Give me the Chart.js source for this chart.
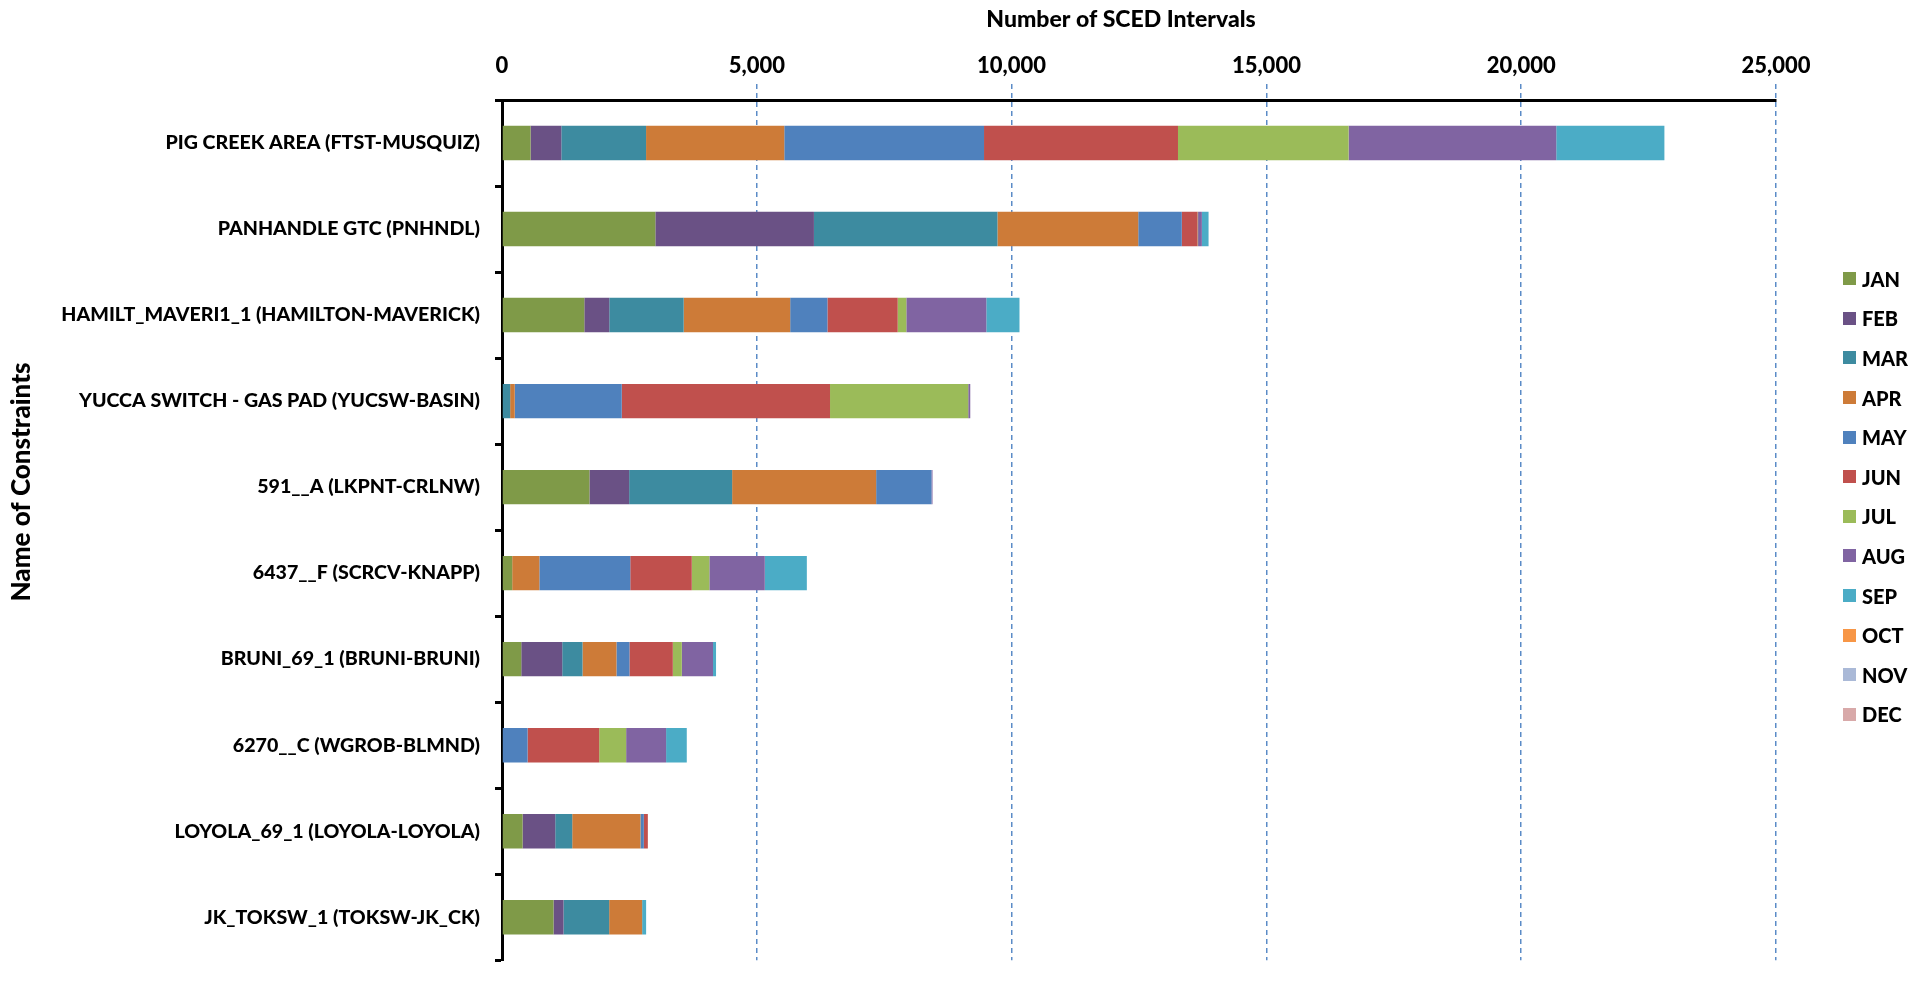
<!DOCTYPE html>
<html>
<head>
<meta charset="utf-8">
<script src="https://cdn.jsdelivr.net/npm/chart.js@4"></script>
<style>
    body { margin: 0; background: #fff; overflow: hidden; }
    #wrap { position: relative; width: 1929px; height: 987px; }
    #legend { position: absolute; left: 1843px; top: 259px; font-family: Lato, sans-serif; font-weight: 900; font-size: 20px; color: #000; }
    #legend .item { display: flex; align-items: center; height: 39.6px; }
    #legend .box { width: 13px; height: 13px; margin-right: 6px; }
</style>
</head>
<body>
<div id="wrap">
    <canvas id="myChart"></canvas>
    <div id="legend"></div>
</div>
<script>
const constraints = [
    'PIG CREEK AREA (FTST-MUSQUIZ)',
    'PANHANDLE GTC (PNHNDL)',
    'HAMILT_MAVERI1_1 (HAMILTON-MAVERICK)',
    'YUCCA SWITCH - GAS PAD (YUCSW-BASIN)',
    '591__A (LKPNT-CRLNW)',
    '6437__F (SCRCV-KNAPP)',
    'BRUNI_69_1 (BRUNI-BRUNI)',
    '6270__C (WGROB-BLMND)',
    'LOYOLA_69_1 (LOYOLA-LOYOLA)',
    'JK_TOKSW_1 (TOKSW-JK_CK)'
];

const months = ['JAN', 'FEB', 'MAR', 'APR', 'MAY', 'JUN', 'JUL', 'AUG', 'SEP', 'OCT', 'NOV', 'DEC'];

const jan = [561, 3009, 1615, 0, 1716, 200, 378, 0, 404, 1011];
const feb = [603, 3112, 490, 0, 779, 0, 804, 0, 641, 196];
const mar = [1663, 3601, 1460, 160, 2021, 0, 398, 0, 333, 896];
const apr = [2712, 2763, 2090, 90, 2826, 533, 666, 0, 1339, 647];
const may = [3920, 855, 731, 2100, 1086, 1784, 255, 502, 66, 0];
const jun = [3806, 309, 1379, 4087, 0, 1207, 851, 1405, 79, 0];
const jul = [3348, 10, 169, 2712, 0, 345, 176, 529, 0, 0];
const aug = [4075, 75, 1570, 40, 20, 1088, 613, 784, 0, 0];
const sep = [2122, 131, 651, 0, 0, 825, 59, 406, 0, 78];
const oct = [0, 0, 0, 0, 0, 0, 0, 0, 0, 0];
const nov = [0, 0, 0, 0, 0, 0, 0, 0, 0, 0];
const dec = [0, 0, 0, 0, 0, 0, 0, 0, 0, 0];

const xTicks = [0, 5000, 10000, 15000, 20000, 25000];

const monthValues = [jan, feb, mar, apr, may, jun, jul, aug, sep, oct, nov, dec];
const colors = ['#7F9A48', '#6A5185', '#3D8BA0', '#CD7B38', '#4F81BD', '#C0504D',
                '#9BBB59', '#8064A2', '#4BACC6', '#F79646', '#AAB9D7', '#D8A9A9'];

const datasets = months.map((m, i) => ({
    label: m,
    data: monthValues[i],
    backgroundColor: colors[i],
    borderWidth: 0,
    barPercentage: 0.8,
    categoryPercentage: 0.5
}));

// axis titles, placed like the original
const axisTitles = {
    id: 'axisTitles',
    afterDraw(chart) {
        const c = chart.ctx;
        c.save();
        c.fillStyle = '#000';
        c.textAlign = 'center';
        c.textBaseline = 'middle';
        c.font = '900 23px Lato';
        c.fillText('Number of SCED Intervals', 1121, 20);
        c.translate(22, 482);
        c.rotate(-Math.PI / 2);
        c.font = '900 26px Lato';
        c.fillText('Name of Constraints', 0, 0);
        c.restore();
    }
};

const ctx = document.getElementById('myChart').getContext('2d');
const chart = new Chart(ctx, {
    type: 'bar',
    data: {
        labels: constraints,
        datasets: datasets
    },
    options: {
        indexAxis: 'y',
        responsive: true,
        maintainAspectRatio: false,
        animation: false,
        layout: {
            padding: { left: 0, right: 153, top: 0, bottom: 2 }
        },
        plugins: {
            legend: { display: false },
            tooltip: { enabled: false }
        },
        scales: {
            x: {
                position: 'top',
                stacked: true,
                min: 0,
                max: 25000,
                afterBuildTicks: (scale) => {
                    scale.ticks = xTicks.map(v => ({ value: v }));
                },
                afterFit: (scale) => { scale.height = 100; },
                ticks: {
                    padding: 5,
                    color: '#000',
                    font: { family: 'Lato', size: 22, weight: '900' },
                    callback: (v) => v.toLocaleString('en-US')
                },
                grid: {
                    color: (c) => c.tick && c.tick.value === 0 ? 'rgba(0,0,0,0)' : '#5B8BC7',
                    lineWidth: 1.5,
                    tickLength: 16,
                    tickColor: (c) => c.tick && c.tick.value === 0 ? 'rgba(0,0,0,0)' : '#5B8BC7',
                    tickWidth: 1.5,
                    tickBorderDash: [5, 4]
                },
                border: {
                    display: true,
                    color: '#000',
                    width: 3,
                    dash: [5, 4]
                }
            },
            y: {
                stacked: true,
                afterFit: (scale) => { scale.width = 502; },
                ticks: {
                    padding: 15,
                    color: '#000',
                    font: { family: 'Lato', size: 19.6, weight: '900' }
                },
                grid: {
                    drawOnChartArea: false,
                    tickLength: 7,
                    tickWidth: 3,
                    tickColor: '#000'
                },
                border: {
                    display: true,
                    color: '#000',
                    width: 3
                }
            }
        }
    },
    plugins: [axisTitles]
});

// legend built from the same month names and colours
const legend = document.getElementById('legend');
months.forEach((m, i) => {
    const item = document.createElement('div');
    item.className = 'item';
    item.innerHTML = '<span class="box" style="background:' + colors[i] + '"></span><span>' + m + '</span>';
    legend.appendChild(item);
});
</script>
</body>
</html>
